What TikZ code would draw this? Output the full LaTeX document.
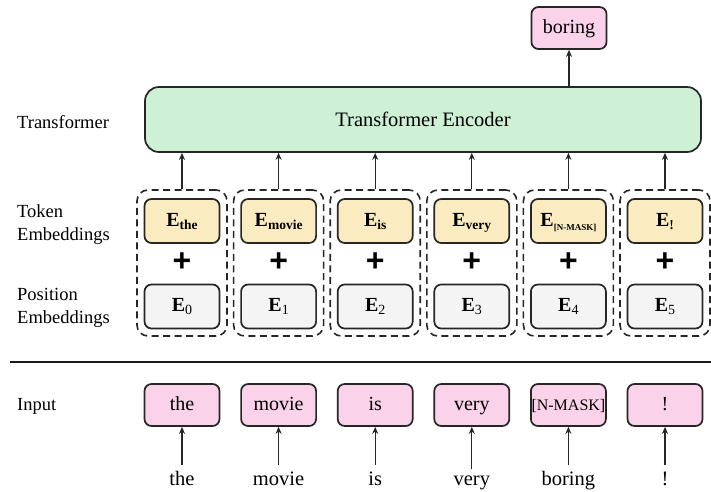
\documentclass[tikz,border=0pt]{standalone}
\usepackage{fontspec}
\setmainfont{Liberation Serif}
\newfontfamily\plusfont{Liberation Sans}
\usetikzlibrary{arrows.meta}
\definecolor{tokY}{RGB}{250,235,192}
\definecolor{inP}{RGB}{250,210,234}
\definecolor{encG}{RGB}{206,240,212}
\definecolor{posG}{RGB}{244,244,244}
\tikzset{
  ebox/.style={draw=black!85, line width=1.7pt, rounded corners=7pt, minimum width=75pt, minimum height=44pt, inner sep=0pt, text height=14pt, text depth=4pt, font=\rmfamily\fontsize{20}{20}\selectfont},
  tokbox/.style={ebox, fill=tokY},
  posbox/.style={ebox, fill=posG},
  inbox/.style={ebox, fill=inP, minimum height=42pt},
  grp/.style={draw=black!85, line width=1.6pt, dash pattern=on 7pt off 4.5pt, rounded corners=11pt, minimum width=90pt, minimum height=146pt, inner sep=0pt},
  arr/.style={-{Stealth[length=7pt,width=6pt]}, line width=1.3pt, black!85},
  lbl/.style={anchor=west, align=left, font=\rmfamily\fontsize{18.5}{23}\selectfont, inner sep=0pt},
  wrd/.style={font=\rmfamily\fontsize{20.5}{20.5}\selectfont, inner sep=0pt},
  plussign/.style={font=\plusfont\bfseries\fontsize{32}{32}\selectfont, inner sep=0pt}
}
\newcommand{\Eb}[1]{\textbf{E}\raisebox{-0.35ex}{\fontsize{13.5}{13.5}\selectfont\bfseries #1}}
\newcommand{\En}[1]{\textbf{E}\raisebox{-0.35ex}{\fontsize{14}{14}\selectfont #1}}
\begin{document}
\begin{tikzpicture}[x=1pt,y=-1pt]
\useasboundingbox (0,0) rectangle (711,491);
\fill[white] (0,0) rectangle (711,491);

% left labels
\node[lbl] (lt) at (17,122) {Transformer};
\node[lbl] (ltok) at (17,225) {Token\\Embeddings};
\node[lbl] (lpos) at (17,308) {Position\\Embeddings};
\node[lbl] (lin) at (17,406) {Input};

% encoder and output
\node[draw=black!85, line width=1.7pt, fill=encG, rounded corners=14pt, minimum width=556pt, minimum height=65pt, inner sep=0pt, font=\rmfamily\fontsize{20.5}{20.5}\selectfont] (enc) at (423,119.5) {Transformer Encoder};
\node[inbox, minimum height=42pt] (out) at (569,28) {boring};
\draw[arr] (out.south |- enc.north) -- (out.south);

% columns
\foreach \i/\tok/\pos/\inw/\bot in {
  0/{\Eb{the}}/{\En{0}}/the/the,
  1/{\Eb{movie}}/{\En{1}}/movie/movie,
  2/{\Eb{is}}/{\En{2}}/is/is,
  3/{\Eb{very}}/{\En{3}}/very/very,
  4/{\textbf{E}\raisebox{-0.5ex}{\fontsize{9}{9}\selectfont\bfseries [N-MASK]}}/{\En{4}}/{\fontsize{16}{16}\selectfont[N-MASK]}/boring,
  5/{\Eb{!}}/{\En{5}}/!/!}{
  \pgfmathsetmacro{\cx}{182+96.6*\i}
  \node[grp] (g\i) at (\cx,263) {};
  \node[tokbox] (t\i) at (\cx,221) {\tok};
  \node[plussign] (p\i) at (\cx,262) {+};
  \node[posbox] (q\i) at (\cx,306.5) {\pos};
  \draw[arr] (g\i.north) -- (g\i.north |- enc.south);
  \node[inbox] (in\i) at (\cx,405) {\inw};
  \node[wrd, anchor=base] (w\i) at (\cx,485) {\bot};
  \coordinate (c\i) at ([yshift=6pt]w\i.north);
  \draw[arr] (c\i) -- (in\i.south);
}

% separator
\coordinate (sl) at (10,362);
\coordinate (sr) at (711,362);
\draw[line width=2.6pt, black!90] (sl) -- (sr);
\end{tikzpicture}
\end{document}
